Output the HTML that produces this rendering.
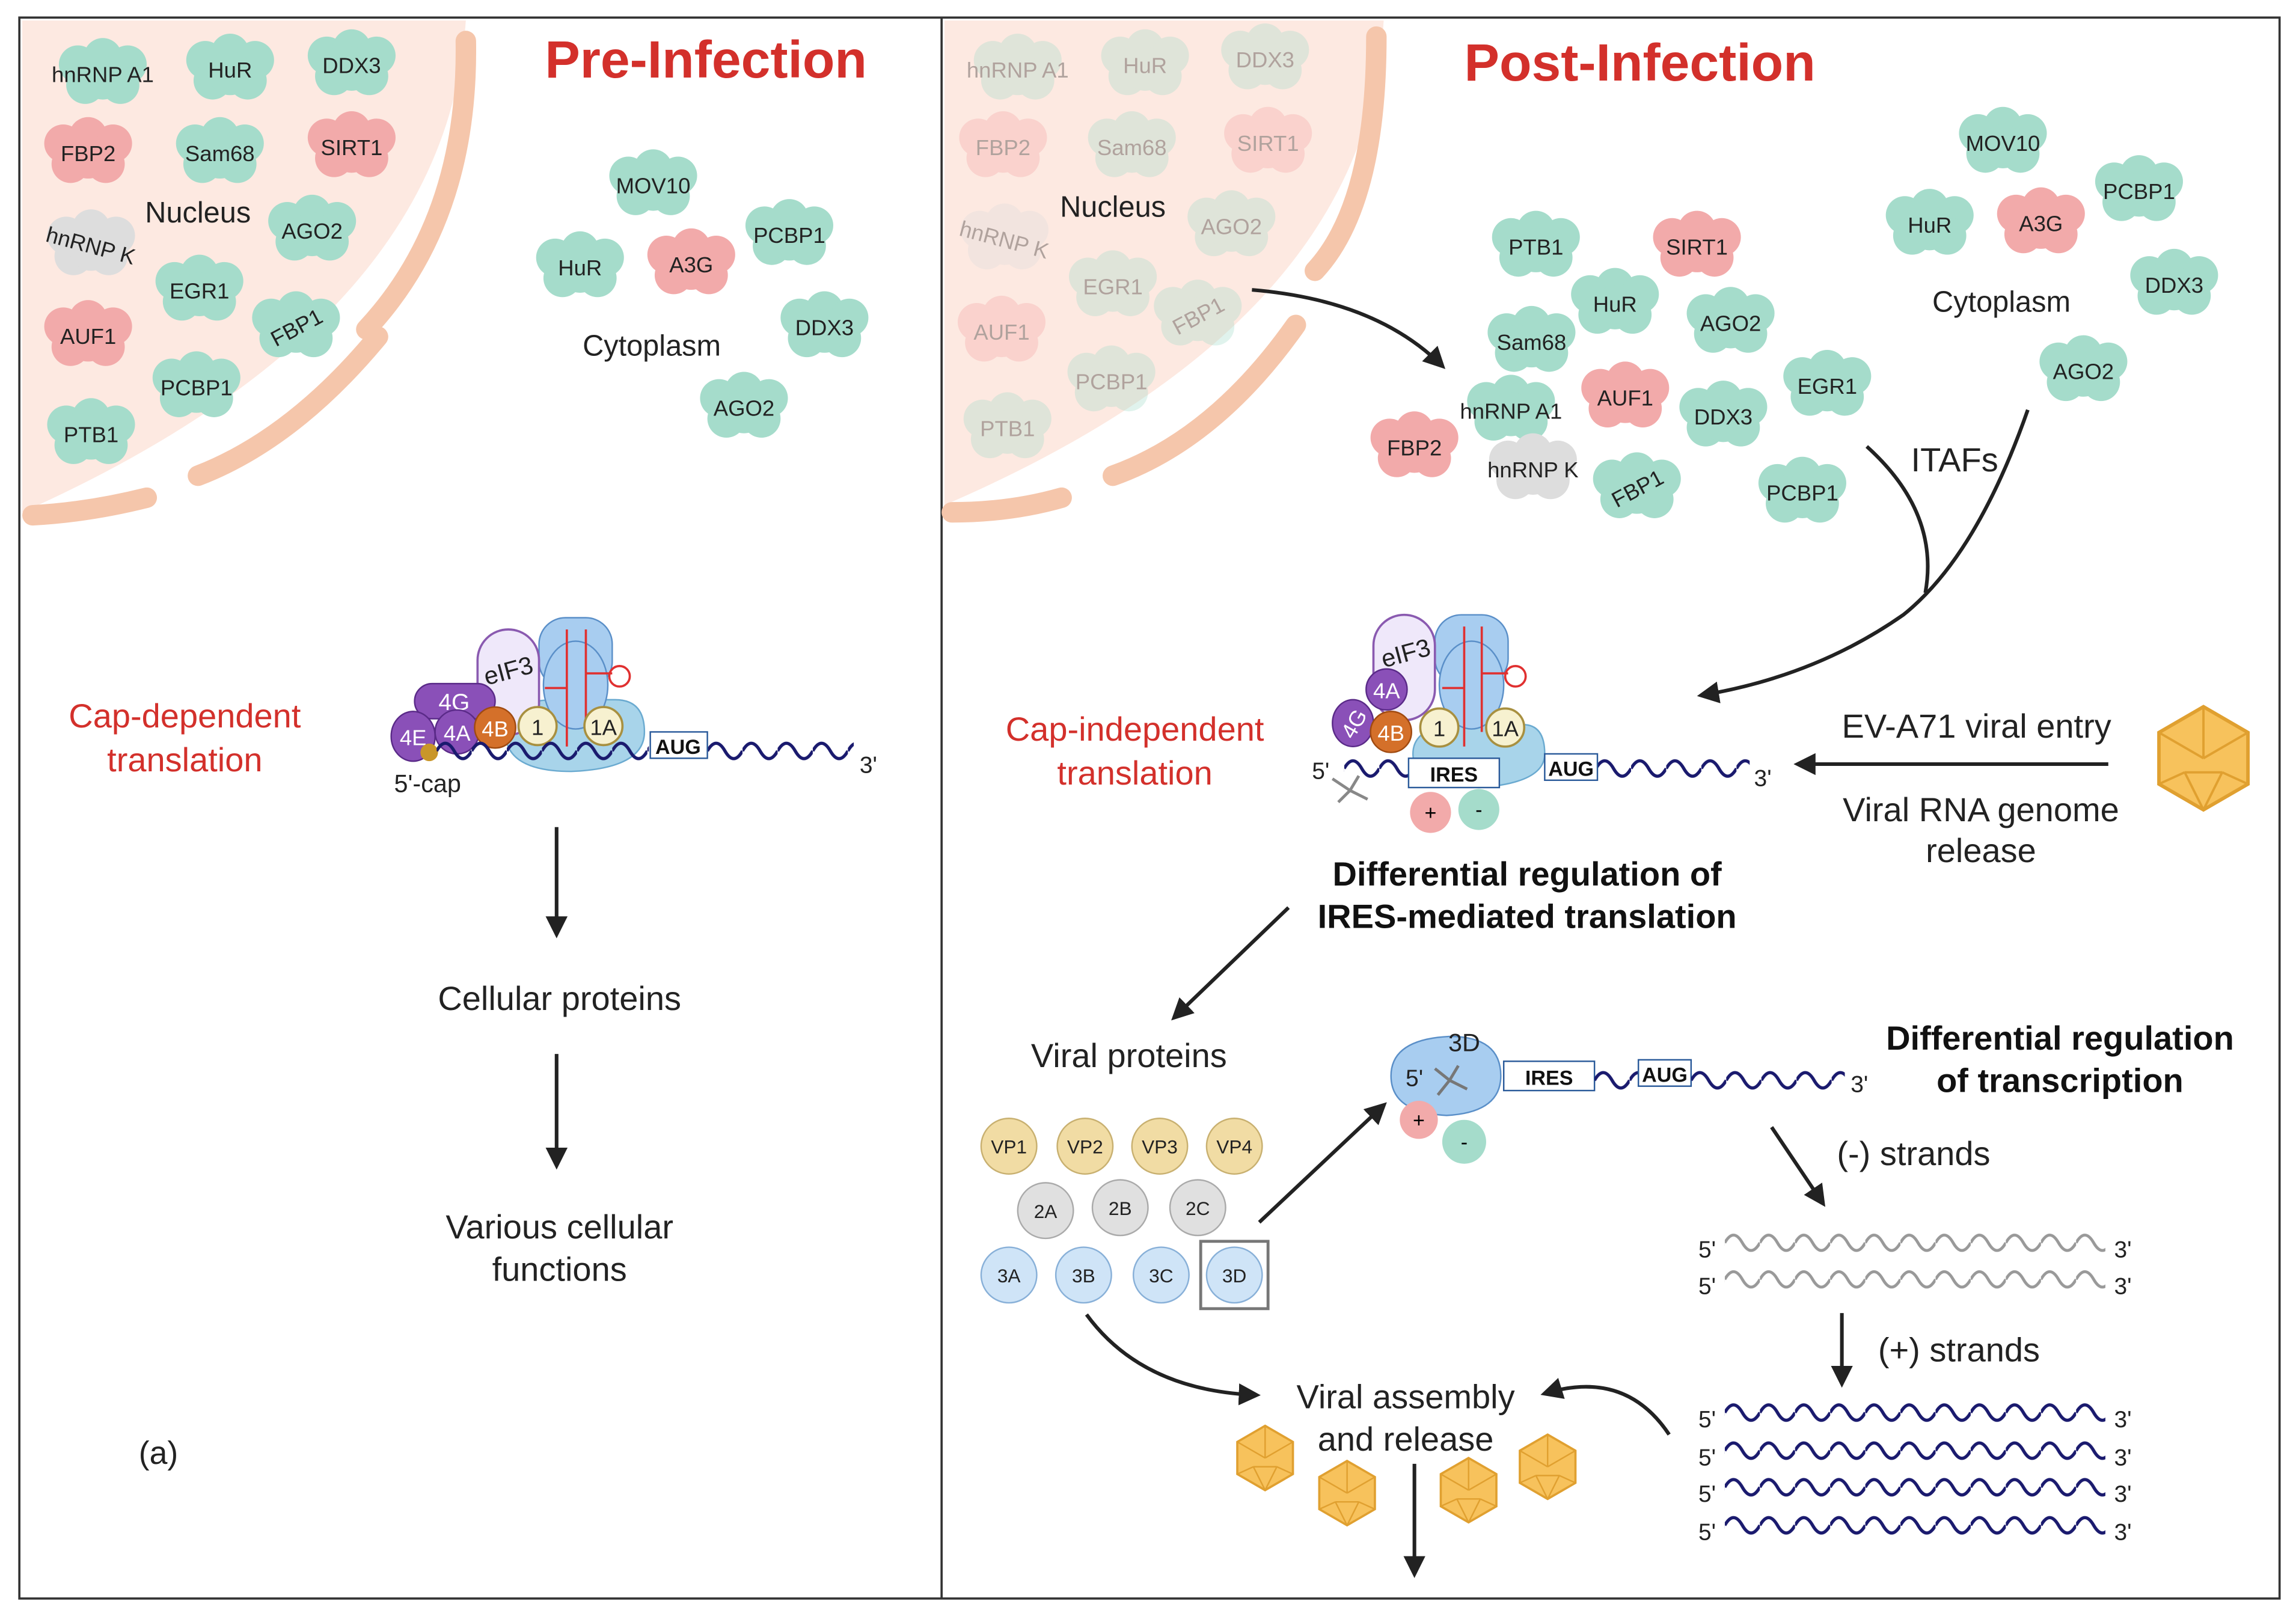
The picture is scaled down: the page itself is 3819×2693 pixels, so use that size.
<!DOCTYPE html>
<html><head><meta charset="utf-8"><style>
html,body{margin:0;padding:0;background:#fff}
svg{display:block}
text{font-family:"Liberation Sans",sans-serif}
</style></head><body>
<svg width="3819" height="2693" viewBox="0 0 1568 1106" xmlns="http://www.w3.org/2000/svg">
<defs>
<symbol id="b" overflow="visible">
<circle cx="-17" cy="-6" r="13"/><circle cx="0" cy="-11" r="13"/><circle cx="17" cy="-6" r="13"/>
<circle cx="-12" cy="8" r="13"/><circle cx="12" cy="8" r="13"/><circle cx="0" cy="3" r="15"/>
</symbol>
<pattern id="wv" width="24" height="14" patternUnits="userSpaceOnUse">
<path d="M0 7 C4 0 8 0 12 7 C16 14 20 14 24 7" fill="none" stroke="#1a1a6e" stroke-width="2.2"/>
</pattern>
<pattern id="wg" width="24" height="14" patternUnits="userSpaceOnUse">
<path d="M0 7 C4 0 8 0 12 7 C16 14 20 14 24 7" fill="none" stroke="#999" stroke-width="2"/>
</pattern>
<marker id="ar" viewBox="0 0 10 10" refX="8" refY="5" markerWidth="6" markerHeight="6" orient="auto"><path d="M0 0L10 5L0 10z" fill="#222"/></marker>
<symbol id="ico" overflow="visible">
<polygon points="0,-22 19,-11 19,11 0,22 -19,11 -19,-11" fill="#f7c25c" stroke="#e0a030" stroke-width="1.5"/>
<path d="M0 -22 L0 0 M19 -11 L0 0 M-19 -11 L0 0 M0 22 L-8 6 M0 22 L8 6 M-19 11 L-8 6 M19 11 L8 6 M-8 6 L8 6" stroke="#e0a030" stroke-width="1" fill="none"/>
</symbol>
</defs>
<rect width="1568" height="1106" fill="#fff"/>
<rect x="13" y="12" width="1544" height="1080" fill="none" stroke="#333" stroke-width="1.5"/>
<line x1="643" y1="12" x2="643" y2="1092" stroke="#333" stroke-width="1.5"/>

<path d="M15 14 L318 14 Q305 220 15 350 Z" fill="#fde9e1"/>
<path d="M318 28 Q320 150 250 225" fill="none" stroke="#f5c6ab" stroke-width="14" stroke-linecap="round"/>
<path d="M258 230 Q200 300 135 325" fill="none" stroke="#f5c6ab" stroke-width="14" stroke-linecap="round"/>
<path d="M100 340 Q60 350 22 352" fill="none" stroke="#f5c6ab" stroke-width="14" stroke-linecap="round"/>
<path d="M645 14 L945 14 Q935 220 645 345 Z" fill="#fde9e1"/>
<path d="M940 25 Q940 140 898 185" fill="none" stroke="#f5c6ab" stroke-width="14" stroke-linecap="round"/>
<path d="M885 222 Q830 300 760 325" fill="none" stroke="#f5c6ab" stroke-width="14" stroke-linecap="round"/>
<path d="M725 340 Q690 350 650 350" fill="none" stroke="#f5c6ab" stroke-width="14" stroke-linecap="round"/>

<text x="482" y="53" font-size="36" font-weight="bold" fill="#d3302b" text-anchor="middle">Pre-Infection</text>
<text x="1120" y="55" font-size="36" font-weight="bold" fill="#d3302b" text-anchor="middle">Post-Infection</text>

<g font-size="15" text-anchor="middle" fill="#222">
<use href="#b" x="70" y="50" fill="#a5dccb"/><text x="70" y="56">hnRNP A1</text>
<use href="#b" x="157" y="47" fill="#a5dccb"/><text x="157" y="53">HuR</text>
<use href="#b" x="240" y="44" fill="#a5dccb"/><text x="240" y="50">DDX3</text>
<use href="#b" x="60" y="104" fill="#f2aaaa"/><text x="60" y="110">FBP2</text>
<use href="#b" x="150" y="104" fill="#a5dccb"/><text x="150" y="110">Sam68</text>
<use href="#b" x="240" y="100" fill="#f2aaaa"/><text x="240" y="106">SIRT1</text>
<use href="#b" x="62" y="167" fill="#dddddd"/><text x="62" y="173" transform="rotate(15 62 167)">hnRNP K</text>
<use href="#b" x="213" y="157" fill="#a5dccb"/><text x="213" y="163">AGO2</text>
<use href="#b" x="136" y="198" fill="#a5dccb"/><text x="136" y="204">EGR1</text>
<use href="#b" x="60" y="229" fill="#f2aaaa"/><text x="60" y="235">AUF1</text>
<use href="#b" x="202" y="223" fill="#a5dccb"/><text x="202" y="229" transform="rotate(-28 202 223)">FBP1</text>
<use href="#b" x="134" y="264" fill="#a5dccb"/><text x="134" y="270">PCBP1</text>
<use href="#b" x="62" y="296" fill="#a5dccb"/><text x="62" y="302">PTB1</text>
<use href="#b" x="446" y="126" fill="#a5dccb"/><text x="446" y="132">MOV10</text>
<use href="#b" x="396" y="182" fill="#a5dccb"/><text x="396" y="188">HuR</text>
<use href="#b" x="472" y="180" fill="#f2aaaa"/><text x="472" y="186">A3G</text>
<use href="#b" x="539" y="160" fill="#a5dccb"/><text x="539" y="166">PCBP1</text>
<use href="#b" x="563" y="223" fill="#a5dccb"/><text x="563" y="229">DDX3</text>
<use href="#b" x="508" y="278" fill="#a5dccb"/><text x="508" y="284">AGO2</text>
</g>
<text x="135" y="152" font-size="20" text-anchor="middle" fill="#222">Nucleus</text>
<text x="445" y="243" font-size="20" text-anchor="middle" fill="#222">Cytoplasm</text>

<g font-size="15" text-anchor="middle" fill="#222" opacity="0.35">
<use href="#b" x="695" y="47" fill="#a5dccb"/><text x="695" y="53">hnRNP A1</text>
<use href="#b" x="782" y="44" fill="#a5dccb"/><text x="782" y="50">HuR</text>
<use href="#b" x="864" y="40" fill="#a5dccb"/><text x="864" y="46">DDX3</text>
<use href="#b" x="685" y="100" fill="#f2aaaa"/><text x="685" y="106">FBP2</text>
<use href="#b" x="773" y="100" fill="#a5dccb"/><text x="773" y="106">Sam68</text>
<use href="#b" x="866" y="97" fill="#f2aaaa"/><text x="866" y="103">SIRT1</text>
<use href="#b" x="686" y="163" fill="#dddddd"/><text x="686" y="169" transform="rotate(15 686 163)">hnRNP K</text>
<use href="#b" x="841" y="154" fill="#a5dccb"/><text x="841" y="160">AGO2</text>
<use href="#b" x="760" y="195" fill="#a5dccb"/><text x="760" y="201">EGR1</text>
<use href="#b" x="684" y="226" fill="#f2aaaa"/><text x="684" y="232">AUF1</text>
<use href="#b" x="818" y="215" fill="#a5dccb"/><text x="818" y="221" transform="rotate(-28 818 215)">FBP1</text>
<use href="#b" x="759" y="260" fill="#a5dccb"/><text x="759" y="266">PCBP1</text>
<use href="#b" x="688" y="292" fill="#a5dccb"/><text x="688" y="298">PTB1</text>
</g>
<text x="760" y="148" font-size="20" text-anchor="middle" fill="#222">Nucleus</text>

<g font-size="15" text-anchor="middle" fill="#222">
<use href="#b" x="1368" y="97" fill="#a5dccb"/><text x="1368" y="103">MOV10</text>
<use href="#b" x="1461" y="130" fill="#a5dccb"/><text x="1461" y="136">PCBP1</text>
<use href="#b" x="1318" y="153" fill="#a5dccb"/><text x="1318" y="159">HuR</text>
<use href="#b" x="1394" y="152" fill="#f2aaaa"/><text x="1394" y="158">A3G</text>
<use href="#b" x="1485" y="194" fill="#a5dccb"/><text x="1485" y="200">DDX3</text>
<use href="#b" x="1423" y="253" fill="#a5dccb"/><text x="1423" y="259">AGO2</text>
<use href="#b" x="1049" y="168" fill="#a5dccb"/><text x="1049" y="174">PTB1</text>
<use href="#b" x="1159" y="168" fill="#f2aaaa"/><text x="1159" y="174">SIRT1</text>
<use href="#b" x="1103" y="207" fill="#a5dccb"/><text x="1103" y="213">HuR</text>
<use href="#b" x="1182" y="220" fill="#a5dccb"/><text x="1182" y="226">AGO2</text>
<use href="#b" x="1046" y="233" fill="#a5dccb"/><text x="1046" y="239">Sam68</text>
<use href="#b" x="1248" y="263" fill="#a5dccb"/><text x="1248" y="269">EGR1</text>
<use href="#b" x="1110" y="271" fill="#f2aaaa"/><text x="1110" y="277">AUF1</text>
<use href="#b" x="1032" y="280" fill="#a5dccb"/><text x="1032" y="286">hnRNP A1</text>
<use href="#b" x="1177" y="284" fill="#a5dccb"/><text x="1177" y="290">DDX3</text>
<use href="#b" x="966" y="305" fill="#f2aaaa"/><text x="966" y="311">FBP2</text>
<use href="#b" x="1047" y="320" fill="#dddddd"/><text x="1047" y="326">hnRNP K</text>
<use href="#b" x="1118" y="333" fill="#a5dccb"/><text x="1118" y="339" transform="rotate(-28 1118 333)">FBP1</text>
<use href="#b" x="1231" y="336" fill="#a5dccb"/><text x="1231" y="342">PCBP1</text>
</g>
<text x="1367" y="213" font-size="20" text-anchor="middle" fill="#222">Cytoplasm</text>

<path d="M855 198 Q940 205 985 250" fill="none" stroke="#222" stroke-width="2.5" marker-end="url(#ar)"/>
<path d="M1275 305 Q1325 350 1315 405" fill="none" stroke="#222" stroke-width="2.5"/>
<path d="M1385 280 Q1350 380 1300 420 Q1240 462 1162 475" fill="none" stroke="#222" stroke-width="2.5" marker-end="url(#ar)"/>
<text x="1335" y="322" font-size="23" text-anchor="middle" fill="#222">ITAFs</text>

<g>
<path d="M345 500 Q345 478 380 478 L420 478 Q440 478 440 500 Q440 525 390 527 Q345 527 345 500Z" fill="#a8d4ea" stroke="#6aaad0"/>
<rect x="368" y="422" width="50" height="48" rx="18" fill="#a8cdf0" stroke="#5a8fc8"/>
<ellipse cx="393" cy="468" rx="22" ry="30" fill="#a8cdf0" stroke="#5a8fc8"/>
<path d="M387 430 V510 M400 430 V500 M400 460 H418 M372 470 H387" stroke="#e03030" stroke-width="1.5" fill="none"/>
<circle cx="423" cy="462" r="7" fill="none" stroke="#e03030" stroke-width="1.5"/>
<rect x="326" y="430" width="42" height="72" rx="21" fill="#efe8fa" stroke="#8a5ab0" stroke-width="1.5"/>
<text x="347" y="464" font-size="17" fill="#222" text-anchor="middle" transform="rotate(-15 347 458)">eIF3</text>
<rect x="283" y="467" width="55" height="24" rx="12" fill="#8a50b8" stroke="#5a2a88"/>
<text x="310" y="485" font-size="16" fill="#fff" text-anchor="middle">4G</text>
<ellipse cx="282" cy="503" rx="15" ry="17" fill="#8a50b8" stroke="#5a2a88"/>
<text x="282" y="509" font-size="15" fill="#fff" text-anchor="middle">4E</text>
<ellipse cx="312" cy="500" rx="15" ry="15" fill="#8a50b8" stroke="#5a2a88"/>
<text x="312" y="506" font-size="15" fill="#fff" text-anchor="middle">4A</text>
<circle cx="338" cy="497" r="14" fill="#d4702a" stroke="#a04a10"/>
<text x="338" y="503" font-size="15" fill="#fff" text-anchor="middle">4B</text>
<circle cx="293" cy="514" r="6" fill="#c9962a"/>
<circle cx="367" cy="496" r="13" fill="#f7f1d0" stroke="#a89040" stroke-width="1.5"/>
<text x="367" y="502" font-size="15" fill="#222" text-anchor="middle">1</text>
<circle cx="412" cy="496" r="13" fill="#f7f1d0" stroke="#a89040" stroke-width="1.5"/>
<text x="412" y="502" font-size="15" fill="#222" text-anchor="middle">1A</text>
<g transform="translate(298 506)"><rect width="145" height="14" fill="url(#wv)"/></g>
<g transform="translate(483 506)"><rect width="100" height="14" fill="url(#wv)"/></g>
<rect x="444" y="500" width="39" height="18" fill="#fff" stroke="#2a5a9a"/>
<text x="463" y="515" font-size="14" font-weight="bold" text-anchor="middle" fill="#111">AUG</text>
<text x="587" y="528" font-size="16" fill="#222">3'</text>
<text x="269" y="541" font-size="17" fill="#222">5'-cap</text>
</g>
<text x="126" y="497" font-size="23" fill="#d3302b" text-anchor="middle">Cap-dependent</text>
<text x="126" y="527" font-size="23" fill="#d3302b" text-anchor="middle">translation</text>
<line x1="380" y1="565" x2="380" y2="638" stroke="#222" stroke-width="2.5" marker-end="url(#ar)"/>
<text x="382" y="690" font-size="23" text-anchor="middle" fill="#222">Cellular proteins</text>
<line x1="380" y1="720" x2="380" y2="796" stroke="#222" stroke-width="2.5" marker-end="url(#ar)"/>
<text x="382" y="846" font-size="23" text-anchor="middle" fill="#222">Various cellular</text>
<text x="382" y="875" font-size="23" text-anchor="middle" fill="#222">functions</text>
<text x="108" y="1000" font-size="22" text-anchor="middle" fill="#222">(a)</text>

<g>
<path d="M965 515 Q965 495 1000 495 L1040 495 Q1055 495 1055 515 Q1055 535 1010 538 Q965 535 965 515Z" fill="#a8d4ea" stroke="#6aaad0"/>
<rect x="980" y="420" width="50" height="48" rx="18" fill="#a8cdf0" stroke="#5a8fc8"/>
<ellipse cx="1005" cy="468" rx="22" ry="30" fill="#a8cdf0" stroke="#5a8fc8"/>
<path d="M1000 428 V510 M1012 428 V500 M1012 460 H1030 M985 470 H1000" stroke="#e03030" stroke-width="1.5" fill="none"/>
<circle cx="1035" cy="462" r="7" fill="none" stroke="#e03030" stroke-width="1.5"/>
<rect x="938" y="420" width="42" height="72" rx="21" fill="#efe8fa" stroke="#8a5ab0" stroke-width="1.5"/>
<text x="960" y="452" font-size="17" fill="#222" text-anchor="middle" transform="rotate(-15 960 446)">eIF3</text>
<circle cx="947" cy="471" r="14" fill="#8a50b8" stroke="#5a2a88"/>
<text x="947" y="477" font-size="15" fill="#fff" text-anchor="middle">4A</text>
<ellipse cx="924" cy="494" rx="14" ry="16" fill="#8a50b8" stroke="#5a2a88"/>
<text x="924" y="500" font-size="15" fill="#fff" text-anchor="middle" transform="rotate(-60 924 494)">4G</text>
<circle cx="950" cy="500" r="14" fill="#d4702a" stroke="#a04a10"/>
<text x="950" y="506" font-size="15" fill="#fff" text-anchor="middle">4B</text>
<circle cx="983" cy="497" r="13" fill="#f7f1d0" stroke="#a89040" stroke-width="1.5"/>
<text x="983" y="503" font-size="15" fill="#222" text-anchor="middle">1</text>
<circle cx="1028" cy="497" r="13" fill="#f7f1d0" stroke="#a89040" stroke-width="1.5"/>
<text x="1028" y="503" font-size="15" fill="#222" text-anchor="middle">1A</text>
<g transform="translate(918 518)"><rect width="45" height="14" fill="url(#wv)"/></g>
<g transform="translate(1090 518)"><rect width="105" height="14" fill="url(#wv)"/></g>
<rect x="962" y="518" width="62" height="20" fill="#fff" stroke="#2a5a9a"/>
<text x="993" y="534" font-size="14" font-weight="bold" text-anchor="middle" fill="#111">IRES</text>
<rect x="1055" y="515" width="36" height="18" fill="#fff" stroke="#2a5a9a"/>
<text x="1073" y="530" font-size="14" font-weight="bold" text-anchor="middle" fill="#111">AUG</text>
<text x="1198" y="537" font-size="16" fill="#222">3'</text>
<text x="896" y="532" font-size="16" fill="#222">5'</text>
<path d="M910 532 l12 8 l6 -10 m-6 10 l-8 8 m8 -8 l12 6" stroke="#888" stroke-width="2" fill="none"/>
<circle cx="977" cy="555" r="14" fill="#f2aaaa"/><text x="977" y="560" font-size="14" text-anchor="middle">+</text>
<circle cx="1010" cy="553" r="14" fill="#a5dccb"/><text x="1010" y="558" font-size="14" text-anchor="middle">-</text>
</g>
<text x="775" y="506" font-size="23" fill="#d3302b" text-anchor="middle">Cap-independent</text>
<text x="775" y="536" font-size="23" fill="#d3302b" text-anchor="middle">translation</text>
<line x1="1440" y1="522" x2="1228" y2="522" stroke="#222" stroke-width="2.5" marker-end="url(#ar)"/>
<text x="1350" y="504" font-size="23" text-anchor="middle" fill="#222">EV-A71 viral entry</text>
<text x="1353" y="561" font-size="23" text-anchor="middle" fill="#222">Viral RNA genome</text>
<text x="1353" y="589" font-size="23" text-anchor="middle" fill="#222">release</text>
<g transform="translate(1505 518) scale(1.6)"><use href="#ico"/></g>
<text x="1043" y="605" font-size="23" font-weight="bold" text-anchor="middle" fill="#111">Differential regulation of</text>
<text x="1043" y="634" font-size="23" font-weight="bold" text-anchor="middle" fill="#111">IRES-mediated translation</text>
<line x1="880" y1="620" x2="802" y2="695" stroke="#222" stroke-width="2.5" marker-end="url(#ar)"/>
<text x="771" y="729" font-size="23" text-anchor="middle" fill="#222">Viral proteins</text>

<g font-size="13" text-anchor="middle" fill="#222">
<circle cx="689" cy="783" r="19" fill="#f1dca4" stroke="#c8b070"/><text x="689" y="788">VP1</text>
<circle cx="741" cy="783" r="19" fill="#f1dca4" stroke="#c8b070"/><text x="741" y="788">VP2</text>
<circle cx="792" cy="783" r="19" fill="#f1dca4" stroke="#c8b070"/><text x="792" y="788">VP3</text>
<circle cx="843" cy="783" r="19" fill="#f1dca4" stroke="#c8b070"/><text x="843" y="788">VP4</text>
<circle cx="714" cy="827" r="19" fill="#e0e0e0" stroke="#aaa"/><text x="714" y="832">2A</text>
<circle cx="765" cy="825" r="19" fill="#e0e0e0" stroke="#aaa"/><text x="765" y="830">2B</text>
<circle cx="818" cy="825" r="19" fill="#e0e0e0" stroke="#aaa"/><text x="818" y="830">2C</text>
<circle cx="689" cy="871" r="19" fill="#cfe4f7" stroke="#88b0d8"/><text x="689" y="876">3A</text>
<circle cx="740" cy="871" r="19" fill="#cfe4f7" stroke="#88b0d8"/><text x="740" y="876">3B</text>
<circle cx="793" cy="871" r="19" fill="#cfe4f7" stroke="#88b0d8"/><text x="793" y="876">3C</text>
<rect x="820" y="848" width="46" height="46" fill="none" stroke="#777" stroke-width="2"/>
<circle cx="843" cy="871" r="19" fill="#cfe4f7" stroke="#88b0d8"/><text x="843" y="876">3D</text>
</g>
<line x1="860" y1="835" x2="945" y2="755" stroke="#222" stroke-width="2.5" marker-end="url(#ar)"/>

<path d="M950 735 Q950 710 990 708 Q1025 708 1025 735 Q1025 760 988 762 Q950 760 950 735Z" fill="#a8cdf0" stroke="#5a8fc8"/>
<text x="1000" y="718" font-size="17" text-anchor="middle" fill="#222">3D</text>
<text x="960" y="742" font-size="16" fill="#222">5'</text>
<path d="M980 730 l10 8 l6 -10 m-6 10 l-8 10 m8 -10 l12 6" stroke="#777" stroke-width="2" fill="none"/>
<rect x="1027" y="725" width="62" height="20" fill="#fff" stroke="#2a5a9a"/>
<text x="1058" y="741" font-size="14" font-weight="bold" text-anchor="middle" fill="#111">IRES</text>
<g transform="translate(1089 731)"><rect width="30" height="14" fill="url(#wv)"/></g>
<rect x="1119" y="724" width="36" height="18" fill="#fff" stroke="#2a5a9a"/>
<text x="1137" y="739" font-size="14" font-weight="bold" text-anchor="middle" fill="#111">AUG</text>
<g transform="translate(1155 731)"><rect width="105" height="14" fill="url(#wv)"/></g>
<text x="1264" y="746" font-size="16" fill="#222">3'</text>
<circle cx="969" cy="765" r="13" fill="#f2aaaa"/><text x="969" y="770" font-size="14" text-anchor="middle">+</text>
<circle cx="1000" cy="780" r="15" fill="#a5dccb"/><text x="1000" y="785" font-size="14" text-anchor="middle">-</text>
<text x="1407" y="717" font-size="23" font-weight="bold" text-anchor="middle" fill="#111">Differential regulation</text>
<text x="1407" y="746" font-size="23" font-weight="bold" text-anchor="middle" fill="#111">of transcription</text>
<line x1="1210" y1="770" x2="1245" y2="822" stroke="#222" stroke-width="2.5" marker-end="url(#ar)"/>
<text x="1307" y="796" font-size="23" text-anchor="middle" fill="#222">(-) strands</text>
<g font-size="16" fill="#222">
<text x="1160" y="859">5'</text><g transform="translate(1178 842)"><rect width="260" height="14" fill="url(#wg)"/></g><text x="1444" y="859">3'</text>
<text x="1160" y="884">5'</text><g transform="translate(1178 867)"><rect width="260" height="14" fill="url(#wg)"/></g><text x="1444" y="884">3'</text>
<text x="1160" y="975">5'</text><g transform="translate(1178 958)"><rect width="260" height="14" fill="url(#wv)"/></g><text x="1444" y="975">3'</text>
<text x="1160" y="1001">5'</text><g transform="translate(1178 984)"><rect width="260" height="14" fill="url(#wv)"/></g><text x="1444" y="1001">3'</text>
<text x="1160" y="1026">5'</text><g transform="translate(1178 1009)"><rect width="260" height="14" fill="url(#wv)"/></g><text x="1444" y="1026">3'</text>
<text x="1160" y="1052">5'</text><g transform="translate(1178 1035)"><rect width="260" height="14" fill="url(#wv)"/></g><text x="1444" y="1052">3'</text>
</g>
<line x1="1258" y1="897" x2="1258" y2="945" stroke="#222" stroke-width="2.5" marker-end="url(#ar)"/>
<text x="1338" y="930" font-size="23" text-anchor="middle" fill="#222">(+) strands</text>
<path d="M1140 980 Q1110 935 1055 952" fill="none" stroke="#222" stroke-width="2.5" marker-end="url(#ar)"/>
<path d="M742 898 Q780 950 858 953" fill="none" stroke="#222" stroke-width="2.5" marker-end="url(#ar)"/>
<text x="960" y="962" font-size="23" text-anchor="middle" fill="#222">Viral assembly</text>
<text x="960" y="991" font-size="23" text-anchor="middle" fill="#222">and release</text>
<use href="#ico" x="864" y="996"/>
<use href="#ico" x="920" y="1020"/>
<use href="#ico" x="1003" y="1018"/>
<use href="#ico" x="1057" y="1002"/>
<line x1="966" y1="1000" x2="966" y2="1075" stroke="#222" stroke-width="2.5" marker-end="url(#ar)"/>
</svg>
</body></html>
